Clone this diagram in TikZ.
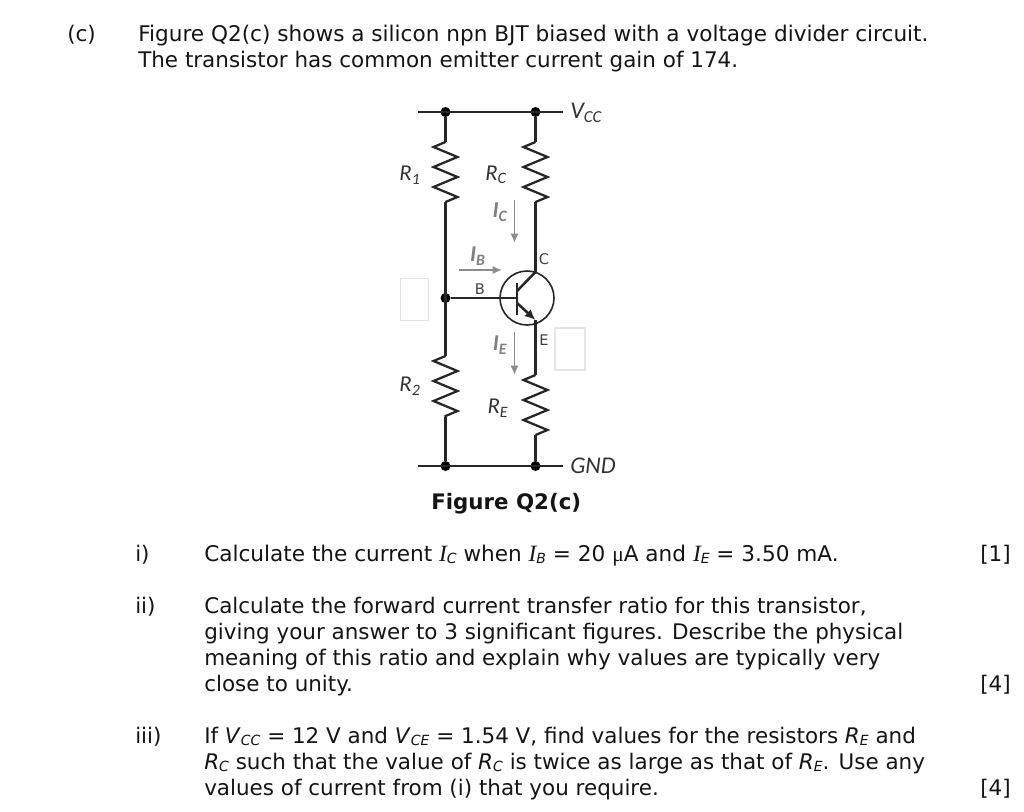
\documentclass[tikz,border=0pt]{standalone}
\usepackage{fontspec}
\setmainfont{DejaVu Sans}
\newfontfamily\circuitfont{Carlito}
\newfontfamily\mathserif{Liberation Serif}
\usetikzlibrary{arrows}
\usetikzlibrary{arrows.meta}
\usetikzlibrary{decorations.pathmorphing}
\tikzstyle{Txt}=[anchor=base west, inner sep=0pt, font=\fontsize{16.1}{18}\selectfont, black!92]
\tikzstyle{Wire}=[line width=1.9pt, black!85]
\tikzstyle{Res}=[Wire, line width=1.7pt, decorate, decoration={zigzag, segment length=15pt, amplitude=9pt, mirror}]
\tikzstyle{Dot}=[circle, fill=black, inner sep=0pt, minimum size=7.5pt]
\tikzstyle{Cur}=[-{Latex[length=7pt, width=6pt]}, line width=1.2pt, black!45]
\tikzstyle{CLab}=[inner sep=0pt, font=\circuitfont\itshape\fontsize{17}{18}\selectfont, black!80]
\tikzstyle{CurLab}=[CLab, black!50, font=\circuitfont\bfseries\itshape\fontsize{17}{18}\selectfont]
\tikzstyle{Pin}=[inner sep=0pt, font=\fontsize{11}{12}\selectfont, black!75]
\tikzstyle{Patch}=[draw=black!10, line width=0.8pt, fill=white]
\tikzset{>=latex}
\newcommand{\Sb}[2]{\textit{#1}{\raisebox{-.25ex}{\fontsize{10.5}{11}\selectfont\textit{#2}}}}
\newcommand{\Si}[1]{{\mathserif\itshape\fontsize{17.5}{18}\selectfont I}{\raisebox{-.25ex}{\fontsize{10.5}{11}\selectfont\textit{#1}}}}
\begin{document}
\begin{tikzpicture}[x=0.75pt, y=-0.75pt]
\useasboundingbox (0,0) rectangle (1024,811);
% question header
\node[Txt] (c) at (67,41) {(c)};
\node[Txt, font=\fontsize{16.2}{18}\selectfont] (intro1) at (138,41) {Figure Q2(c) shows a silicon npn BJT biased with a voltage divider circuit.};
\node[Txt] (intro2) at (138,67) {The transistor has common emitter current gain of 174.};

% patches
\node[Patch, minimum width=21.5pt, minimum height=31pt, inner sep=0pt] (PatchB) at (414.5,299.5) {};
\node[Patch, minimum width=22.5pt, minimum height=31.5pt, inner sep=0pt] (PatchE) at (570,349) {};

% circuit
\node[Dot] (TopA) at (445.5,112) {};
\node[Dot] (TopB) at (535.5,112) {};
\node[Dot] (BotA) at (445.5,466) {};
\node[Dot] (BotB) at (535.5,466) {};
\node[Dot] (Jct) at (445.5,298) {};
\coordinate (TopL) at (418,112);
\coordinate (TopR) at (563,112);
\coordinate (BotL) at (418,466);
\coordinate (BotR) at (563,466);
\coordinate (R1a) at (445.5,142);
\coordinate (R1b) at (445.5,202);
\coordinate (R2a) at (445.5,356);
\coordinate (R2b) at (445.5,417);
\coordinate (RCa) at (535.5,142);
\coordinate (RCb) at (535.5,202);
\coordinate (REa) at (535.5,375);
\coordinate (REb) at (535.5,435);
\coordinate (ColPin) at (535.5,272);
\coordinate (EmPin) at (535.5,320);
\coordinate (BarTop) at (517,283);
\coordinate (BarBot) at (517,315);
\coordinate (BarC) at (517,291);
\coordinate (BarE) at (517,303);
\coordinate (BarB) at (517,298);
\node[circle, draw=black!85, line width=1.2pt, minimum size=40.5pt, inner sep=0pt] (Q) at (527,298) {};

\draw[Wire](TopL) -- (TopR);
\draw[Wire](BotL) -- (BotR);
\draw[Wire](TopA) -- (R1a);
\draw[Res](R1a) -- (R1b);
\draw[Wire](R1b) -- (R2a);
\draw[Res](R2a) -- (R2b);
\draw[Wire](R2b) -- (BotA);
\draw[Wire](TopB) -- (RCa);
\draw[Res](RCa) -- (RCb);
\draw[Wire](RCb) -- (ColPin);
\draw[Wire](EmPin) -- (REa);
\draw[Res](REa) -- (REb);
\draw[Wire](REb) -- (BotB);
\draw[Wire](Jct) -- (BarB);
\draw[Wire](BarTop) -- (BarBot);
\draw[Wire](BarC) -- (ColPin);
\draw[Wire, -{Latex[length=8pt, width=7pt]}](BarE) -- (EmPin);

% currents
\coordinate (IcA) at (514.5,200);
\coordinate (IcB) at (514.5,243);
\coordinate (IbA) at (459,270);
\coordinate (IbB) at (502,270);
\coordinate (IeA) at (514.5,332);
\coordinate (IeB) at (514.5,375);
\draw[Cur](IcA) -- (IcB);
\draw[Cur](IbA) -- (IbB);
\draw[Cur](IeA) -- (IeB);

% labels
\node[CLab] (LabR1) at (410,175) {R\textsubscript{1}};
\node[CLab] (LabRC) at (496,175) {R\textsubscript{C}};
\node[CLab] (LabR2) at (410,386) {R\textsubscript{2}};
\node[CLab] (LabRE) at (498,408) {R\textsubscript{E}};
\node[CurLab] (LabIC) at (500,212) {I\textsubscript{C}};
\node[CurLab] (LabIB) at (478,256) {I\textsubscript{B}};
\node[CurLab] (LabIE) at (500,345) {I\textsubscript{E}};
\node[Pin] (LabC) at (544,259) {C};
\node[Pin] (LabB) at (480,289) {B};
\node[Pin] (LabE) at (544,340) {E};
\node[CLab, anchor=west, font=\circuitfont\itshape\fontsize{18}{20}\selectfont] (LabV) at (570,113) {V\textsubscript{CC}};
\node[CLab, anchor=west, font=\circuitfont\itshape\fontsize{18}{20}\selectfont] (LabG) at (570,466) {GND};
\node[Txt, font=\bfseries\fontsize{16}{18}\selectfont] (Fig) at (431,509) {Figure Q2(c)};

% parts
\node[Txt] (PartI) at (135,561) {i)};
\node[Txt, font=\fontsize{16.2}{18}\selectfont] (I1) at (204,561) {Calculate the current \Si{C} when \Si{B} = 20 {\mathserif μ}A and \Si{E} = 3.50 mA.};
\node[Txt] (M1) at (980,561) {[1]};
\node[Txt] (PartII) at (135,613) {ii)};
\node[Txt] (II1) at (204,613) {Calculate the forward current transfer ratio for this transistor,};
\node[Txt] (II2) at (204,639) {giving your answer to 3 significant figures. Describe the physical};
\node[Txt] (II3) at (204,665) {meaning of this ratio and explain why values are typically very};
\node[Txt] (II4) at (204,691) {close to unity.};
\node[Txt] (M2) at (980,691) {[4]};
\node[Txt] (PartIII) at (135,743) {iii)};
\node[Txt] (III1) at (204,743) {If \Sb{V}{CC} = 12 V and \Sb{V}{CE} = 1.54 V, find values for the resistors \Sb{R}{E} and};
\node[Txt] (III2) at (204,769) {\Sb{R}{C} such that the value of \Sb{R}{C} is twice as large as that of \Sb{R}{E}. Use any};
\node[Txt] (III3) at (204,795) {values of current from (i) that you require.};
\node[Txt] (M3) at (980,795) {[4]};
\end{tikzpicture}
\end{document}
